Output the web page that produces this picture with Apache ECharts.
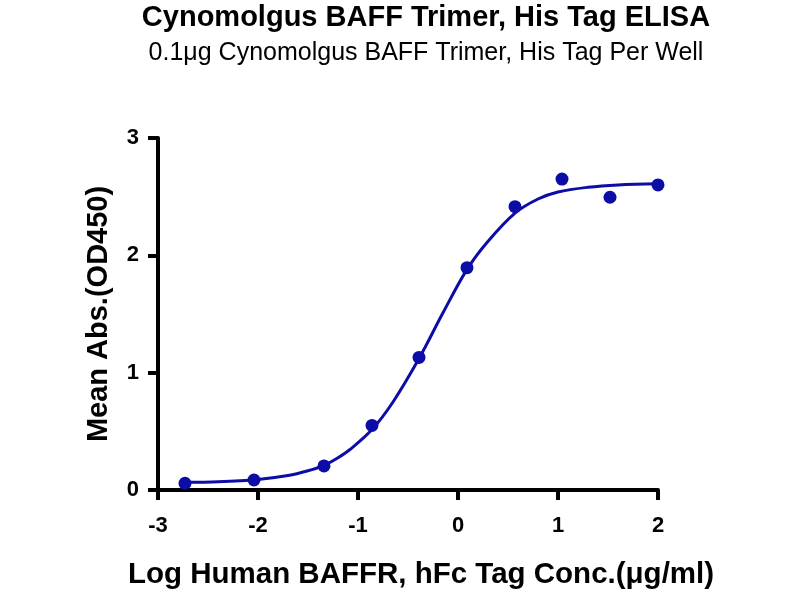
<!DOCTYPE html>
<html>
<head>
<meta charset="utf-8">
<script src="https://cdn.jsdelivr.net/npm/echarts@6/dist/echarts.min.js"></script>
<style>
  html, body { margin: 0; padding: 0; background: #fff; }
  #chart { width: 800px; height: 600px; }
</style>
</head>
<body>
<div id="chart"></div>
<script>
// measured points (log conc, OD450)
const pointX = [-2.73, -2.04, -1.34, -0.86, -0.39, 0.09, 0.57, 1.04, 1.52, 2.0];
const pointY = [0.057, 0.085, 0.205, 0.55, 1.13, 1.895, 2.415, 2.65, 2.495, 2.60];

// fitted curve
const curveX = [-2.73, -2.4, -2.0, -1.7, -1.5, -1.34, -1.2, -1.08, -0.86, -0.65, -0.39, -0.15, 0.09, 0.29, 0.57, 0.8, 1.0, 1.3, 1.6, 2.0];
const curveY = [0.065, 0.07, 0.09, 0.123, 0.164, 0.21, 0.275, 0.345, 0.515, 0.75, 1.12, 1.51, 1.88, 2.11, 2.36, 2.48, 2.54, 2.58, 2.60, 2.61];

const xTicks = [-3, -2, -1, 0, 1, 2];
const yTicks = [0, 1, 2, 3];

const blue = '#0c0ca6';
const font = '"Liberation Sans", Arial, sans-serif';

const chart = echarts.init(document.getElementById('chart'), null, { renderer: 'canvas' });

chart.setOption({
  backgroundColor: '#fff',
  animation: false,
  title: {
    text: 'Cynomolgus BAFF Trimer, His Tag ELISA',
    subtext: '0.1μg Cynomolgus BAFF Trimer, His Tag Per Well',
    left: 421,
    textAlign: 'center',
    top: -2,
    itemGap: 9,
    textStyle: { fontFamily: font, fontWeight: 'bold', fontSize: 29, color: '#000' },
    subtextStyle: { fontFamily: font, fontSize: 25, color: '#000' },
  },
  grid: { left: 158, right: 142, top: 138, bottom: 110 },
  xAxis: {
    type: 'value',
    min: xTicks[0],
    max: xTicks[xTicks.length - 1],
    interval: 1,
    name: 'Log Human BAFFR, hFc Tag Conc.(μg/ml)',
    nameLocation: 'middle',
    nameGap: 70,
    nameTextStyle: { fontFamily: font, fontWeight: 'bold', fontSize: 29.5, color: '#000', padding: [0, 0, 0, 26] },
    axisLine: { onZero: false, lineStyle: { color: '#000', width: 4 } },
    axisTick: { length: 10, lineStyle: { color: '#000', width: 4 } },
    axisLabel: { fontFamily: font, fontWeight: 'bold', fontSize: 22, color: '#000', margin: 25 },
    splitLine: { show: false },
  },
  yAxis: {
    type: 'value',
    min: yTicks[0],
    max: yTicks[yTicks.length - 1],
    interval: 1,
    name: 'Mean Abs.(OD450)',
    nameLocation: 'middle',
    nameGap: 45,
    nameTextStyle: { fontFamily: font, fontWeight: 'bold', fontSize: 29, color: '#000' },
    axisLine: { onZero: false, lineStyle: { color: '#000', width: 4 } },
    axisTick: { length: 10, lineStyle: { color: '#000', width: 4 } },
    axisLabel: { fontFamily: font, fontWeight: 'bold', fontSize: 22, color: '#000', margin: 19 },
    splitLine: { show: false },
  },
  series: [
    {
      name: 'fit',
      type: 'line',
      smooth: 0.35,
      showSymbol: false,
      lineStyle: { color: blue, width: 3 },
      data: curveX.map((x, i) => [x, curveY[i]]),
      z: 2,
    },
    {
      name: 'data',
      type: 'scatter',
      symbolSize: 13,
      itemStyle: { color: blue, opacity: 1 },
      data: pointX.map((x, i) => [x, pointY[i]]),
      z: 3,
    },
  ],
});
</script>
</body>
</html>
